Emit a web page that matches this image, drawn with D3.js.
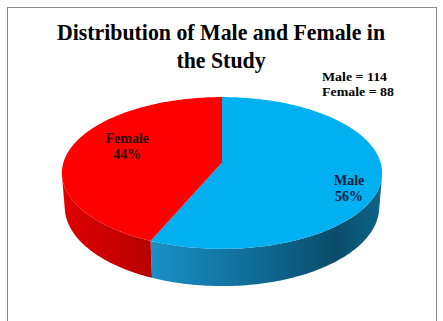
<!DOCTYPE html>
<html>
<head>
<meta charset="utf-8">
<script src="https://cdn.jsdelivr.net/npm/d3@7"></script>
<style>
  body { margin: 0; background: #fff; }
  svg { display: block; }
  text { font-family: "Liberation Serif", "Times New Roman", serif; font-weight: bold; }
</style>
</head>
<body>
<svg width="443" height="321"></svg>
<script>
// data
var categories = ['Male', 'Female']
var counts = [114, 88]
var percent_labels = ['56%', '44%']
var title_lines = ['Distribution of Male and Female in', 'the Study']
var count_lines = ['Male = 114', 'Female = 88']

var top_colors = ['#00b0f0', '#ff0000']

// layout: a flat disc seen in perspective from above
var cx = 222, cy = 162.5
var focal = 1015, dist = 6.4, tilt = 28 * Math.PI / 180, thick = 0.245
var label_k = [0.8, 0.62]
var label_dy = [10, -10.5]

var svg = d3.select('svg')

// frame
svg.append('rect')
  .attr('x', 7.5).attr('y', 7.5)
  .attr('width', 429).attr('height', 330)
  .attr('fill', 'none')
  .attr('stroke', '#8a8a8a')

var defs = svg.append('defs')

var blue_side = defs.append('linearGradient')
  .attr('id', 'blue_side').attr('gradientUnits', 'userSpaceOnUse')
  .attr('x1', 147).attr('x2', 382).attr('y1', 0).attr('y2', 0)
blue_side.append('stop').attr('offset', 0).attr('stop-color', '#1a92c8')
blue_side.append('stop').attr('offset', 0.45).attr('stop-color', '#106c96')
blue_side.append('stop').attr('offset', 0.8).attr('stop-color', '#0a4c6a')
blue_side.append('stop').attr('offset', 1).attr('stop-color', '#0e6488')

var red_side = defs.append('linearGradient')
  .attr('id', 'red_side').attr('gradientUnits', 'userSpaceOnUse')
  .attr('x1', 62).attr('x2', 150).attr('y1', 0).attr('y2', 0)
red_side.append('stop').attr('offset', 0).attr('stop-color', '#e00000')
red_side.append('stop').attr('offset', 1).attr('stop-color', '#b80000')

var side_fills = ['url(#blue_side)', 'url(#red_side)']

var pie = d3.pie().sort(null)
var arcs = pie(counts)

// project a point of the disc: angle a clockwise from the back, radius r, height h
function project (a, r, h) {
  var X = r*Math.sin(a), Z = r*Math.cos(a)
  var v = Z*Math.sin(tilt) + h*Math.cos(tilt)
  var w = dist + Z*Math.cos(tilt) - h*Math.sin(tilt)
  return [cx + focal*X/w, cy - focal*v/w]
}

function arc_points (a0, a1, h) {
  var n = Math.max(2, Math.ceil(Math.abs(a1 - a0) / 0.02))
  return d3.range(n + 1).map((i) => project(a0 + (a1 - a0)*i/n, 1, h))
}

var line = d3.line()

// visible part of the wall faces the camera
var edge = Math.acos(-1 / (dist*Math.cos(tilt)))
var wall_lo = edge, wall_hi = 2*Math.PI - edge

arcs.forEach((d, i) => {
  var a0 = Math.max(d.startAngle, wall_lo)
  var a1 = Math.min(d.endAngle, wall_hi)
  if (a1 <= a0) return
  var pts = arc_points(a0, a1, 0).concat(arc_points(a1, a0, -thick))
  svg.append('path')
    .attr('d', line(pts) + 'Z')
    .attr('fill', side_fills[i])
})

// top faces
arcs.forEach((d, i) => {
  var pts = [project(0, 0, 0)].concat(arc_points(d.startAngle, d.endAngle, 0))
  svg.append('path')
    .attr('d', line(pts) + 'Z')
    .attr('fill', top_colors[i])
})

// slice labels
arcs.forEach((d, i) => {
  var mid = (d.startAngle + d.endAngle) / 2
  var p = project(mid, label_k[i], 0)
  var t = svg.append('text')
    .attr('x', p[0]).attr('y', p[1] + label_dy[i])
    .attr('text-anchor', 'middle')
    .attr('font-size', 14)
    .attr('fill', i === 0 ? '#0c2340' : '#2a0a0a')
  t.append('tspan').attr('x', p[0]).attr('dy', 0).text(categories[i])
  t.append('tspan').attr('x', p[0]).attr('dy', 16).text(percent_labels[i])
})

// title, slightly condensed like the original
svg.selectAll('.title')
  .data(title_lines)
  .enter().append('text')
    .attr('class', 'title')
    .attr('transform', (d, i) => 'translate(221,' + (40 + i*28) + ') scale(0.91,1)')
    .attr('text-anchor', 'middle')
    .attr('font-size', 24)
    .attr('fill', '#000')
    .text((d) => d)

// counts
svg.selectAll('.count')
  .data(count_lines)
  .enter().append('text')
    .attr('class', 'count')
    .attr('transform', (d, i) => 'translate(322,' + (80.5 + i*15) + ') scale(1.07,1)')
    .attr('font-size', 13)
    .attr('fill', '#000')
    .text((d) => d)
</script>
</body>
</html>
